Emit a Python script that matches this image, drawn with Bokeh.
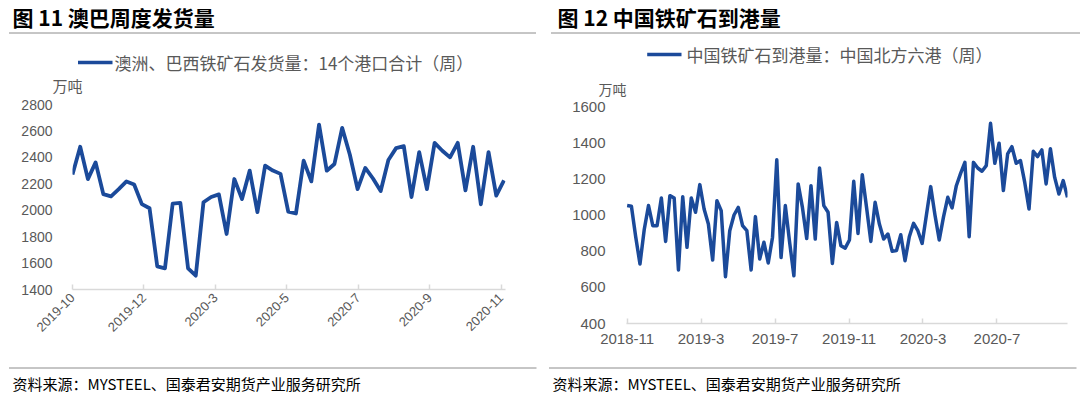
import math
from bokeh.plotting import figure
from bokeh.models import Range1d, FixedTicker, Label
from bokeh.layouts import row, column
from bokeh.embed import file_html
from bokeh.resources import INLINE

# ---------------- data ----------------
left_title = "图 11  澳巴周度发货量"
left_series_name = "澳洲、巴西铁矿石发货量：14个港口合计（周）"
left_tick_labels = ["2019-10", "2019-12", "2020-3", "2020-5", "2020-7", "2020-9", "2020-11"]
left_values = [2270, 2480, 2235, 2362, 2122, 2105, 2160, 2218, 2195, 2046,
               2015, 1575, 1560, 2050, 2055, 1560, 1505, 2060, 2100, 2120,
               1820, 2236, 2084, 2300, 1985, 2337, 2300, 2275, 1990, 1975,
               2375, 2218, 2648, 2299, 2350, 2623, 2420, 2160, 2320, 2240,
               2145, 2380, 2470, 2485, 2100, 2440, 2160, 2510, 2450, 2400,
               2510, 2150, 2480, 2045, 2440, 2110, 2225]

right_title = "图 12  中国铁矿石到港量"
right_series_name = "中国铁矿石到港量：中国北方六港（周）"
right_tick_labels = ["2018-11", "2019-3", "2019-7", "2019-11", "2020-3", "2020-7"]
right_values = [1052, 1048, 880, 729, 920, 1052, 941, 941, 1094, 854,
                1107, 1094, 696, 1101, 821, 1094, 1015, 1168, 1033, 950,
                751, 1079, 1024, 659, 913, 1000, 1042, 941, 913, 696,
                991, 757, 849, 735, 876, 1305, 765, 1052, 850, 664,
                1172, 1042, 870, 1162, 867, 1260, 1052, 1015, 732, 959,
                830, 817, 862, 1186, 898, 1223, 1042, 854, 1070, 950,
                867, 895, 799, 803, 891, 747, 880, 954, 913, 843,
                1000, 1157, 1000, 862, 990, 1098, 1039, 1162, 1230, 1291,
                880, 1291, 1260, 1242, 1273, 1507, 1286, 1397, 1135, 1338,
                1378, 1286, 1301, 1180, 1033, 1352, 1323, 1360, 1172, 1366,
                1208, 1116, 1190, 1098]

unit_text = "万吨"
source_text = "资料来源：MYSTEEL、国泰君安期货产业服务研究所"

# ---------------- style ----------------
LINE_COLOR = "#1B4A9A"
AXIS_GRAY = "#D9D9D9"
LABEL_GRAY = "#595959"
RULE_GRAY = "#8C8C8C"
NUM_FONT = "Liberation Sans"
CJK_FONT = "Noto Sans CJK SC"
PW = 540            # width of each panel
CHART_BOTTOM = 360  # canvas y where the footer starts


def no_align(p):
    if "frame_align" in p.properties():
        p.frame_align = False
    return p


def blank_fig(h):
    """A figure whose plotting frame is the whole canvas, y measured downward."""
    p = figure(width=PW, height=h, output_backend="svg", toolbar_location=None,
               x_range=Range1d(0, PW), y_range=Range1d(h, 0),
               x_axis_location=None, y_axis_location=None,
               min_border_left=0, min_border_right=0, min_border_top=0,
               min_border_bottom=0)
    p.outline_line_color = None
    p.xgrid.visible = False
    p.ygrid.visible = False
    p.background_fill_color = "white"
    p.border_fill_color = "white"
    return no_align(p)


def add_text(p, x, y, text, size, color="black", font=CJK_FONT, style="normal"):
    p.add_layout(Label(x=x, y=y, text=text, text_font=font, text_font_size=size,
                       text_color=color, text_font_style=style,
                       text_align="left", text_baseline="middle"))


def add_rule(p, x0, x1, y, color=RULE_GRAY, width=1):
    p.segment(x0=[x0], y0=[y], x1=[x1], y1=[y], line_color=color, line_width=width)


def header(h, title, title_x, rule_x0, rule_x1, name, leg_x0, leg_x1, leg_y,
           text_x, leg_size, unit_x, unit_y, unit_size):
    p = blank_fig(h)
    add_text(p, title_x, 16, title, "21px", "black", CJK_FONT, "bold")
    add_rule(p, rule_x0, rule_x1, 32.5)
    # legend key + label
    add_rule(p, leg_x0, leg_x1, leg_y, LINE_COLOR, 3.5)
    add_text(p, text_x, leg_y, name, leg_size, LABEL_GRAY)
    add_text(p, unit_x, unit_y, unit_text, unit_size, LABEL_GRAY)
    return p


def footer(rule_x0, text_x):
    h = 396 - CHART_BOTTOM
    p = blank_fig(h)
    add_rule(p, rule_x0, PW - 4, 7.5)
    add_text(p, text_x, 23, source_text, "15px", "black", CJK_FONT)
    return p


def chart(h, xr, yr, bl, br, bt, bb, yticks, ystand, ysize, xsize):
    p = figure(width=PW, height=h, output_backend="svg", toolbar_location=None,
               x_range=xr, y_range=yr, min_border_left=bl, min_border_right=br,
               min_border_top=bt, min_border_bottom=bb)
    no_align(p)
    p.outline_line_color = None
    p.xgrid.visible = False
    p.ygrid.visible = False
    p.background_fill_color = "white"
    p.border_fill_color = "white"
    ya = p.yaxis[0]
    ya.ticker = FixedTicker(ticks=yticks)
    ya.axis_line_color = None
    ya.major_tick_line_color = None
    ya.minor_tick_line_color = None
    ya.major_tick_out = 0
    ya.major_label_standoff = ystand
    ya.major_label_text_font = NUM_FONT
    ya.major_label_text_font_size = ysize
    ya.major_label_text_color = LABEL_GRAY
    xa = p.xaxis[0]
    xa.axis_line_color = AXIS_GRAY
    xa.axis_line_width = 1.5
    xa.major_tick_line_color = AXIS_GRAY
    xa.major_tick_line_width = 1.5
    xa.minor_tick_line_color = None
    xa.major_tick_in = 5
    xa.major_tick_out = 0
    xa.major_label_text_font = NUM_FONT
    xa.major_label_text_font_size = xsize
    xa.major_label_text_color = LABEL_GRAY
    return p


# ---------------- left panel ----------------
LH = 96
h1 = header(LH, left_title, 12, 8.5, 535.5, left_series_name,
            77.5, 112, 62, 114, "17px", 52, 85, "15px")
c1 = chart(CHART_BOTTOM - LH, Range1d(0, 56.2), Range1d(1400, 2800),
           72, PW - 505, 104 - LH, CHART_BOTTOM - 289,
           list(range(1400, 2801, 200)), 20, "14px", "13px")
c1.line(list(range(len(left_values))), left_values, line_color=LINE_COLOR,
        line_width=3.8, line_join="round")
lstep = 9.27
ltick_pos = [round(i * lstep, 2) for i in range(len(left_tick_labels))]
c1.xaxis[0].ticker = FixedTicker(ticks=ltick_pos)
c1.xaxis[0].major_label_overrides = {t: s for t, s in zip(ltick_pos, left_tick_labels)}
c1.xaxis[0].major_label_orientation = math.pi / 4
c1.xaxis[0].major_label_standoff = 6
f1 = footer(8.5, 12)

# ---------------- right panel ----------------
RH = 99
h2 = header(RH, right_title, 17, 10.5, PW, right_series_name,
            106.7, 141, 54, 146, "17px", 58, 88, "14px")
c2 = chart(CHART_BOTTOM - RH, Range1d(-0.15, 103), Range1d(400, 1600),
           86, PW - 527, 106 - RH, CHART_BOTTOM - 323,
           list(range(400, 1601, 200)), 21, "15px", "15px")
c2.line(list(range(len(right_values))), right_values, line_color=LINE_COLOR,
        line_width=3.5, line_join="round")
rstep = 17.3
rtick_pos = [round(i * rstep, 2) for i in range(len(right_tick_labels))]
c2.xaxis[0].ticker = FixedTicker(ticks=rtick_pos)
c2.xaxis[0].major_label_overrides = {t: s for t, s in zip(rtick_pos, right_tick_labels)}
c2.xaxis[0].major_label_standoff = 10
f2 = footer(8.5, 12)

layout = row(column(h1, c1, f1), column(h2, c2, f2))
open("out.html", "w").write(file_html(layout, INLINE))
